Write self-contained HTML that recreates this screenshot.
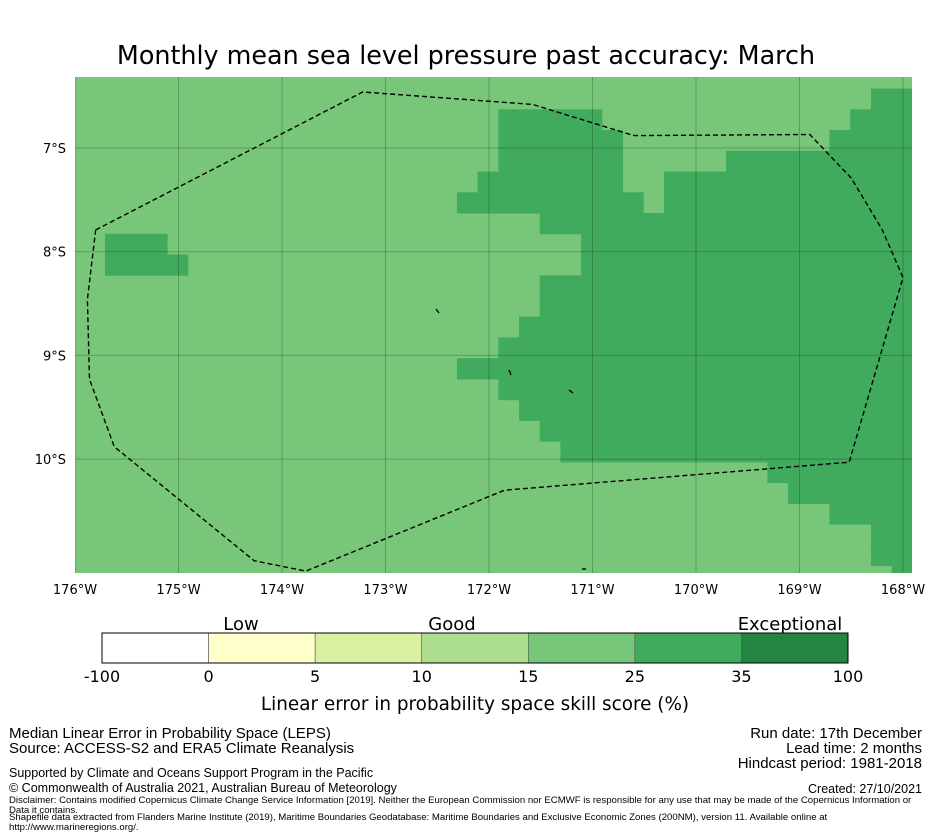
<!DOCTYPE html>
<html><head><meta charset="utf-8"><style>
body{margin:0;background:#fff;width:931px;height:839px;overflow:hidden;position:relative;font-family:"DejaVu Sans","Liberation Sans",sans-serif}
.ft{position:absolute;font-family:"Liberation Sans",sans-serif;color:#000;white-space:nowrap}
</style></head><body>
<svg id="chart" width="931" height="720" style="position:absolute;left:0;top:0" xmlns="http://www.w3.org/2000/svg">
<text x="466" y="64" text-anchor="middle" font-size="25.4" font-family="DejaVu Sans, sans-serif">Monthly mean sea level pressure past accuracy: March</text>
<g id="map"></g>
<g id="cbar"></g>
</svg>
<div class="ft" style="left:9px;top:725px;font-size:15px">Median Linear Error in Probability Space (LEPS)</div>
<div class="ft" style="left:9px;top:740px;font-size:15px">Source: ACCESS-S2 and ERA5 Climate Reanalysis</div>
<div class="ft" style="left:9px;top:766px;font-size:12.5px">Supported by Climate and Oceans Support Program in the Pacific</div>
<div class="ft" style="left:9px;top:781px;font-size:12.5px">© Commonwealth of Australia 2021, Australian Bureau of Meteorology</div>
<div class="ft" style="left:9px;top:796px;font-size:9.6px;line-height:10px;width:915px;white-space:normal">Disclaimer: Contains modified Copernicus Climate Change Service Information [2019]. Neither the European Commission nor ECMWF is responsible for any use that may be made of the Copernicus Information or Data it contains.</div>
<div class="ft" style="left:9px;top:813px;font-size:9.6px;line-height:10px;width:900px;white-space:normal">Shapefile data extracted from Flanders Marine Institute (2019), Maritime Boundaries Geodatabase: Maritime Boundaries and Exclusive Economic Zones (200NM), version 11. Available online at<br>http://www.marineregions.org/.</div>
<div class="ft" style="right:9px;top:725px;font-size:15px;text-align:right">Run date: 17th December</div>
<div class="ft" style="right:9px;top:740px;font-size:15px;text-align:right">Lead time: 2 months</div>
<div class="ft" style="right:9px;top:755px;font-size:15px;text-align:right">Hindcast period: 1981-2018</div>
<div class="ft" style="right:9px;top:782px;font-size:12.5px;text-align:right">Created: 27/10/2021</div>
<script>
const lonTicks=[-176,-175,-174,-173,-172,-171,-170,-169,-168];
const latTicks=[-7,-8,-9,-10];
// dark-cell spans per row [startCol,endCol] (0.2° cells), row 0 at top
const darkRows=[[],[[39,40]],[[21,25],[38,40]],[[21,26],[37,40]],[[21,26],[32,40]],[[20,26],[29,40]],[[19,27],[29,40]],[[23,40]],[[2,4],[25,40]],[[2,5],[25,40]],[[23,40]],[[23,40]],[[22,40]],[[21,40]],[[19,40]],[[21,40]],[[22,40]],[[23,40]],[[24,40]],[[34,40]],[[35,40]],[[37,40]],[[39,40]],[[39,40]],[[40,40]]];
const eezLon=[-175.8,-173.22,-171.58,-170.6,-168.9,-168.5,-168.2,-168.0,-168.52,-171.85,-173.77,-174.27,-175.62,-175.86,-175.88,-175.8];
const eezLat=[-7.79,-6.46,-6.58,-6.88,-6.87,-7.29,-7.79,-8.25,-10.03,-10.3,-11.08,-10.98,-9.88,-9.23,-8.46,-7.79];
const cbLabels=["-100","0","5","10","15","25","35","100"];
const cbColors=["#ffffff","#ffffcc","#d9f0a3","#addd8e","#78c679","#41ab5d","#238443"];
const X0=75,X1=912,Y0=77,Y1=573;
const xs=lon=>75+(lon+176)*103.5;
const ys=lat=>148+(-7-lat)*103.7;
const NS='http://www.w3.org/2000/svg';
function mk(tag,attrs,parent){const e=document.createElementNS(NS,tag);for(const k in attrs)e.setAttribute(k,attrs[k]);parent.appendChild(e);return e;}
const map=document.getElementById('map');
const clip=mk('clipPath',{id:'mc'},map);mk('rect',{x:X0,y:Y0,width:X1-X0,height:Y1-Y0},clip);
const g=mk('g',{'clip-path':'url(#mc)'},map);
const bg=mk('rect',{x:X0,y:Y0,width:X1-X0,height:Y1-Y0,fill:'#78c679'},g);


const cellLon0=-175.91,cellLat0=-6.227,cell=0.2;
darkRows.forEach((spans,r)=>{spans.forEach(s=>{
 const x=xs(cellLon0+(s[0]-1)*cell),x2=xs(cellLon0+s[1]*cell);
 const y=ys(cellLat0-r*cell),y2=ys(cellLat0-(r+1)*cell);
 const rc=mk('rect',{x:x,y:y,width:x2-x+0.5,height:y2-y+0.5,fill:'#41ab5d'},g);
 
 
});});
lonTicks.forEach(l=>{const x=xs(l);
 const ln=mk('line',{x1:x,x2:x,y1:Y0,y2:Y1,stroke:'#000','stroke-opacity':0.22,'stroke-width':1},g);
 
 
 const t=mk('text',{x:x,y:594,'text-anchor':'middle','font-size':13},map);t.textContent=(-l)+'°W';
 
 
});
latTicks.forEach(l=>{const y=ys(l);
 const ln=mk('line',{x1:X0,x2:X1,y1:y,y2:y,stroke:'#000','stroke-opacity':0.22,'stroke-width':1},g);
 
 
 const t=mk('text',{x:66,y:y+5,'text-anchor':'end','font-size':13},map);t.textContent=(-l)+'°S';
 
 
});
const pts=eezLon.map((l,i)=>xs(l).toFixed(1)+','+ys(eezLat[i]).toFixed(1)).join(' ');
const eez=mk('polyline',{points:pts,fill:'none',stroke:'#000','stroke-width':1.4,'stroke-dasharray':'5,3'},g);


[[436,309,439,313],[509,370,511,375],[569,390,573,393],[582,569,586,569]].forEach(p=>{
 const il=mk('line',{x1:p[0],y1:p[1],x2:p[2],y2:p[3],stroke:'#000','stroke-width':1.4},g);
 
 
});
const cb=document.getElementById('cbar');
const cbX=102,cbW=746,cbY=633,cbH=30,seg=cbW/cbColors.length;
cbColors.forEach((c,i)=>{
 const r=mk('rect',{x:cbX+i*seg,y:cbY,width:seg,height:cbH,fill:c,stroke:'#555','stroke-width':0.6},cb);
 
 
});
mk('rect',{x:cbX,y:cbY,width:cbW,height:cbH,fill:'none',stroke:'#000','stroke-width':1},cb);
cbLabels.forEach((s,i)=>{
 const t=mk('text',{x:cbX+i*seg,y:682,'text-anchor':'middle','font-size':16},cb);t.textContent=s;
 
 
});
[['Low',241],['Good',452],['Exceptional',790]].forEach(a=>{
 const t=mk('text',{x:a[1],y:630,'text-anchor':'middle','font-size':18},cb);t.textContent=a[0];
 
 
});
const ct=mk('text',{x:475,y:710,'text-anchor':'middle','font-size':18.4},cb);ct.textContent='Linear error in probability space skill score (%)';


</script>
</body></html>
